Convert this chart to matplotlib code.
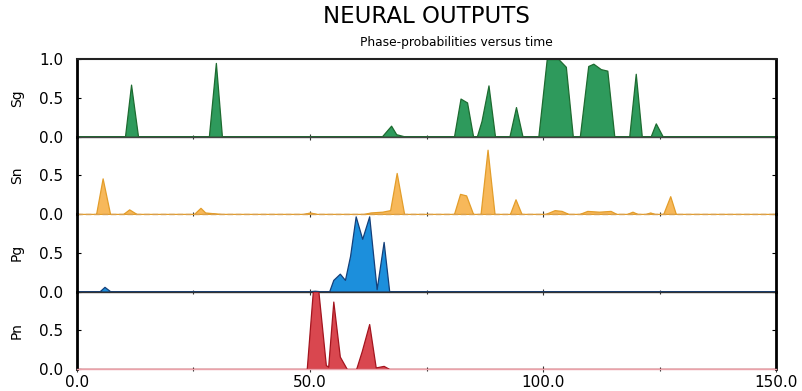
import numpy as np
import matplotlib
matplotlib.use("Agg")
import matplotlib.pyplot as plt

# Phase probabilities, as (time, probability) breakpoints
sg_t = [0, 10.3, 11.6, 13.1, 28.3, 29.8, 31.1, 65.4, 67.4, 68.5, 70.4,
        80.9, 82.3, 83.7, 85.0, 85.8, 86.8, 88.3, 89.7, 92.8, 94.2, 95.6,
        99.0, 100.8, 103.3, 104.9, 106.4, 107.9, 109.7, 110.8, 112.4, 113.8, 115.3,
        118.5, 119.9, 121.2, 123.1, 124.2, 125.7, 150]
sg_p = [0, 0, 0.67, 0, 0, 0.95, 0, 0, 0.14, 0.03, 0,
        0, 0.49, 0.44, 0, 0, 0.20, 0.66, 0, 0, 0.38, 0,
        0, 1.0, 1.0, 0.90, 0, 0, 0.91, 0.94, 0.87, 0.85, 0,
        0, 0.81, 0, 0, 0.17, 0, 0]

sn_t = [0, 4.1, 5.5, 7.1, 9.9, 11.2, 12.8, 25.1, 26.5, 27.5, 31.0,
        48.5, 50.0, 51.5, 61.5, 63.0, 65.5, 67.2, 68.6, 70.2,
        80.9, 82.2, 83.5, 85.0, 86.6, 88.1, 89.6, 92.9, 94.1, 95.4,
        100.5, 102.5, 104.0, 105.5, 107.8, 109.5, 112.0, 114.5, 115.8,
        118.0, 119.2, 120.3, 122.0, 123.0, 124.0, 125.8, 127.3, 128.5, 150]
sn_p = [0, 0, 0.46, 0, 0, 0.06, 0, 0, 0.08, 0.02, 0,
        0, 0.02, 0, 0, 0.02, 0.03, 0.05, 0.53, 0,
        0, 0.26, 0.24, 0, 0, 0.83, 0, 0, 0.19, 0,
        0, 0.05, 0.04, 0, 0, 0.04, 0.03, 0.04, 0,
        0, 0.03, 0, 0, 0.02, 0, 0, 0.23, 0, 0]

pg_t = [0, 4.8, 5.9, 7.2, 49.3, 51.0, 52.9, 54.1, 55.0, 56.4, 57.5, 58.6,
        59.8, 61.2, 62.7, 64.3, 65.8, 67.0, 150]
pg_p = [0, 0, 0.06, 0, 0, 0.01, 0, 0, 0.15, 0.23, 0.15, 0.46,
        0.97, 0.68, 0.97, 0.03, 0.64, 0, 0]

pn_t = [0, 49.3, 50.6, 51.8, 53.4, 53.9, 55.0, 56.4, 57.9, 59.9, 61.1,
        62.7, 64.1, 65.8, 67.0, 150]
pn_p = [0, 0, 1.0, 1.0, 0.05, 0.03, 0.87, 0.16, 0, 0, 0.23,
        0.58, 0.02, 0.04, 0, 0]

phases = ["Sg", "Sn", "Pg", "Pn"]
x_ticks = [0, 50, 100, 150]
x_labels = ["0.0", "50.0", "100.0", "150.0"]

# fill, edge, zero-line colour and style for each panel
styles = [
    ("#2e9a5c", "#1d6b30", "#444444", "-"),
    ("#f7b85a", "#e39d2a", "#d9a050", (0, (4, 2))),
    ("#1c8fdc", "#14407a", "#333333", "-"),
    ("#d9474f", "#a3141e", "#eba2aa", "-"),
]

series = [(sg_t, sg_p), (sn_t, sn_p), (pg_t, pg_p), (pn_t, pn_p)]

fig, axes = plt.subplots(4, 1, sharex=True, figsize=(8.02, 3.91), dpi=100)
fig.subplots_adjust(left=0.096, right=0.9676, top=0.849, bottom=0.0563, hspace=0)

for i, ax in enumerate(axes):
    t, p = series[i]
    fill, edge, zcol, zls = styles[i]
    ax.patch.set_visible(False)
    ax.fill_between(t, p, 0, facecolor=fill, edgecolor=edge, linewidth=0.9, zorder=2)
    ax.axhline(0, color=zcol, linestyle=zls, linewidth=1.0, zorder=3, clip_on=False)

    ax.set_xlim(0, 150)
    ax.set_ylim(0, 1.0)
    if i == 0:
        ax.set_yticks([0, 0.5, 1.0])
        ax.set_yticklabels(["0.0", "0.5", "1.0"])
    else:
        ax.set_yticks([0, 0.5])
        ax.set_yticklabels(["0.0", "0.5"])
    ax.set_ylabel(phases[i], fontsize=10, labelpad=11)

    ax.spines["left"].set_linewidth(2.0)
    ax.spines["right"].set_linewidth(2.0)
    ax.spines["bottom"].set_visible(False)
    if i == 0:
        ax.spines["top"].set_linewidth(1.5)
        ax.spines["top"].set_color("#222222")
    else:
        ax.spines["top"].set_visible(False)

    ax.tick_params(axis="y", direction="in", length=3, width=0.8, labelsize=11,
                   right=True, pad=10)
    ax.set_xticks(x_ticks)
    ax.set_xticks([25, 75, 125], minor=True)
    ax.tick_params(axis="x", which="both", direction="inout", length=5, width=0.8,
                   color="#333333")
    ax.tick_params(axis="x", which="minor", length=3)

axes[-1].set_xticklabels(x_labels)
axes[-1].tick_params(axis="x", labelsize=11, pad=2)

fig.text(0.532, 0.957, "NEURAL OUTPUTS", ha="center", va="center", fontsize=16.5)
fig.text(0.569, 0.892, "Phase-probabilities versus time", ha="center", va="center",
         fontsize=8.8)

fig.savefig("out.png", dpi=100)
